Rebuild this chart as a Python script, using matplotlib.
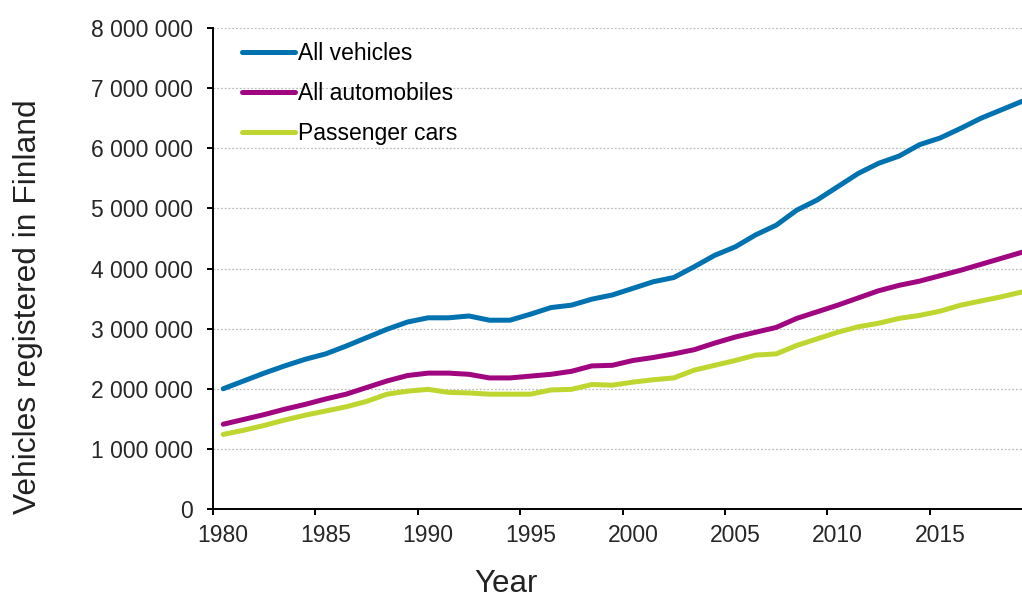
import matplotlib
matplotlib.use("Agg")
from matplotlib import pyplot as plt
from matplotlib.ticker import FuncFormatter, NullFormatter

plt.rcParams["font.family"] = ["Liberation Sans", "DejaVu Sans"]

years = list(range(1980, 2020))

# values in millions
all_vehicles = [
    2.00, 2.13, 2.26, 2.38, 2.49, 2.58, 2.71, 2.85, 2.99, 3.11,
    3.18, 3.18, 3.21, 3.14, 3.14, 3.24, 3.35, 3.39, 3.49, 3.56,
    3.67, 3.78, 3.85, 4.03, 4.22, 4.36, 4.56, 4.72, 4.97, 5.14,
    5.36, 5.58, 5.75, 5.87, 6.06, 6.17, 6.33, 6.50, 6.64, 6.78,
]
all_automobiles = [
    1.41, 1.49, 1.57, 1.66, 1.74, 1.83, 1.91, 2.02, 2.13, 2.22,
    2.26, 2.26, 2.24, 2.18, 2.18, 2.21, 2.24, 2.29, 2.38, 2.39,
    2.47, 2.52, 2.58, 2.65, 2.76, 2.86, 2.94, 3.02, 3.17, 3.28,
    3.39, 3.51, 3.63, 3.72, 3.79, 3.88, 3.97, 4.07, 4.17, 4.27,
]
passenger_cars = [
    1.24, 1.31, 1.39, 1.48, 1.56, 1.63, 1.70, 1.79, 1.91, 1.96,
    1.99, 1.94, 1.93, 1.91, 1.91, 1.91, 1.98, 1.99, 2.07, 2.06,
    2.11, 2.15, 2.18, 2.31, 2.39, 2.47, 2.56, 2.58, 2.72, 2.83,
    2.94, 3.03, 3.09, 3.17, 3.22, 3.29, 3.39, 3.46, 3.53, 3.61,
]
tick_years = list(range(1980, 2020, 5))

series = [
    ("All vehicles", all_vehicles, "#0072b0"),
    ("All automobiles", all_automobiles, "#a0067f"),
    ("Passenger cars", passenger_cars, "#bed62f"),
]

fig = plt.figure(figsize=(10.22, 5.99), dpi=100)
ax = fig.add_axes([213 / 1022, 1 - 509 / 599, 1 - 213 / 1022, (509 - 28) / 599])

# excel-style category axis: points and labels sit mid-slot, ticks on slot edges
xs = [y + 0.5 for y in years]
for label, vals, color in series:
    ax.plot(xs, [v * 1e6 for v in vals], color=color, lw=3.6, label=label,
            solid_capstyle="round", solid_joinstyle="round")

ax.set_xlim(1980, 2019.5)
ax.set_ylim(0, 8e6)
ax.set_xticks(tick_years)
ax.xaxis.set_major_formatter(NullFormatter())
ax.set_xticks([y + 0.5 for y in tick_years], minor=True)
ax.set_xticklabels([str(y) for y in tick_years], minor=True)
ax.set_yticks([i * 1e6 for i in range(9)])
ax.yaxis.set_major_formatter(FuncFormatter(lambda v, p: f"{int(v):,}".replace(",", " ")))
ax.grid(axis="y", color="#bdbdbd", ls=(0, (1.5, 1.5)), lw=0.9)
ax.set_axisbelow(True)

for s in ("top", "right"):
    ax.spines[s].set_visible(False)
for s in ("left", "bottom"):
    ax.spines[s].set_linewidth(1.4)
    ax.spines[s].set_color("black")
ax.tick_params(axis="both", which="major", length=4.3, width=1.4, colors="black")
ax.tick_params(axis="y", labelsize=16.5, labelcolor="#262626", pad=10)
ax.tick_params(axis="x", which="minor", length=0, labelsize=16.5, labelcolor="#262626", pad=10.5)

fig.text(506 / 1022, 0.5 / 599, "Year", fontsize=22.5, color="#222222", ha="center", va="bottom")
fig.text(28 / 1022, 1 - 307 / 599, "Vehicles registered in Finland", fontsize=22.9,
         color="#222222", rotation=90, ha="center", va="center")

ax.legend(loc="upper left", bbox_to_anchor=(0.036, 0.97), frameon=False, fontsize=16.5,
          handlelength=2.3, handletextpad=0.12, labelspacing=0.73, borderpad=0, borderaxespad=0)

fig.savefig("out.png", dpi=100)
